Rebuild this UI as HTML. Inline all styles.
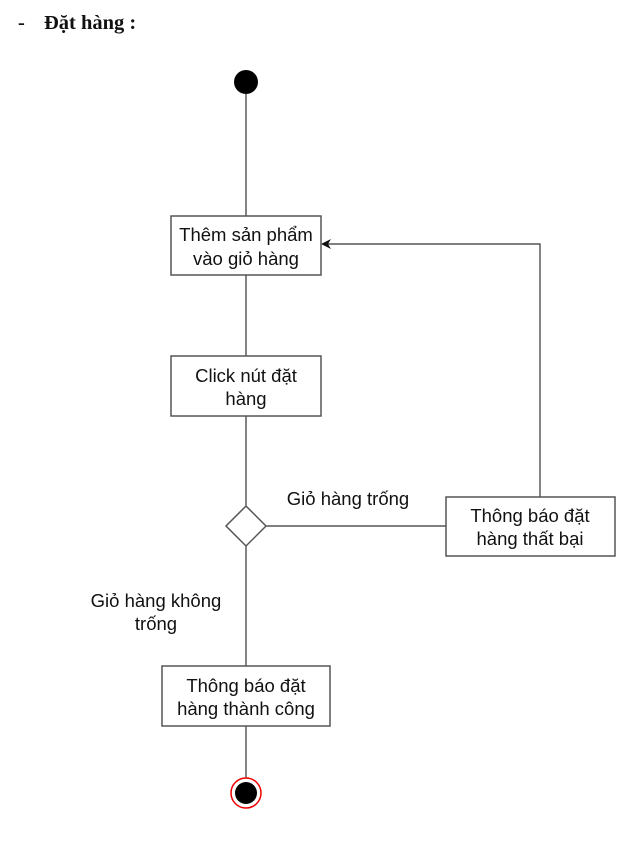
<!DOCTYPE html>
<html><head><meta charset="utf-8"><style>
body{margin:0;background:#fff;width:634px;height:843px;overflow:hidden}
svg{position:absolute;left:0;top:0}
text{font-family:"Liberation Sans",sans-serif;font-size:18.5px;fill:#111}
</style></head><body>
<svg width="634" height="843" viewBox="0 0 634 843">
<text x="18" y="29" style="font-family:'Liberation Serif',serif;font-weight:bold;font-size:20.5px">-</text>
<text x="44" y="29" style="font-family:'Liberation Serif',serif;font-weight:bold;font-size:20.5px">Đặt hàng :</text>
<g stroke="#333" stroke-width="1.2" fill="none">
<line x1="246" y1="94" x2="246" y2="216"/>
<line x1="246" y1="275" x2="246" y2="356"/>
<line x1="246" y1="416" x2="246" y2="506"/>
<line x1="246" y1="546" x2="246" y2="666"/>
<line x1="246" y1="726" x2="246" y2="778"/>
<line x1="266" y1="526" x2="446" y2="526"/>
<polyline points="540,497 540,244 323,244"/>
</g>
<polygon points="321,244 331,239 328,244 331,249" fill="#111"/>
<circle cx="246" cy="82" r="12" fill="#000"/>
<g fill="#fff" stroke="#555" stroke-width="1.5">
<rect x="171" y="216" width="150" height="59"/>
<rect x="171" y="356" width="150" height="60"/>
<rect x="446" y="497" width="169" height="59"/>
<rect x="162" y="666" width="168" height="60"/>
<polygon points="246,506 266,526 246,546 226,526"/>
</g>
<circle cx="246" cy="793" r="15" fill="#fff" stroke="#e00" stroke-width="1.5"/>
<circle cx="246" cy="793" r="11" fill="#000"/>
<g text-anchor="middle">
<text x="246" y="241">Thêm sản phẩm</text>
<text x="246" y="265">vào giỏ hàng</text>
<text x="246" y="382">Click nút đặt</text>
<text x="246" y="405">hàng</text>
<text x="530" y="522">Thông báo đặt</text>
<text x="530" y="545">hàng thất bại</text>
<text x="246" y="692">Thông báo đặt</text>
<text x="246" y="715">hàng thành công</text>
<text x="348" y="505">Giỏ hàng trống</text>
<text x="156" y="607">Giỏ hàng không</text>
<text x="156" y="630">trống</text>
</g>
</svg>
</body></html>
